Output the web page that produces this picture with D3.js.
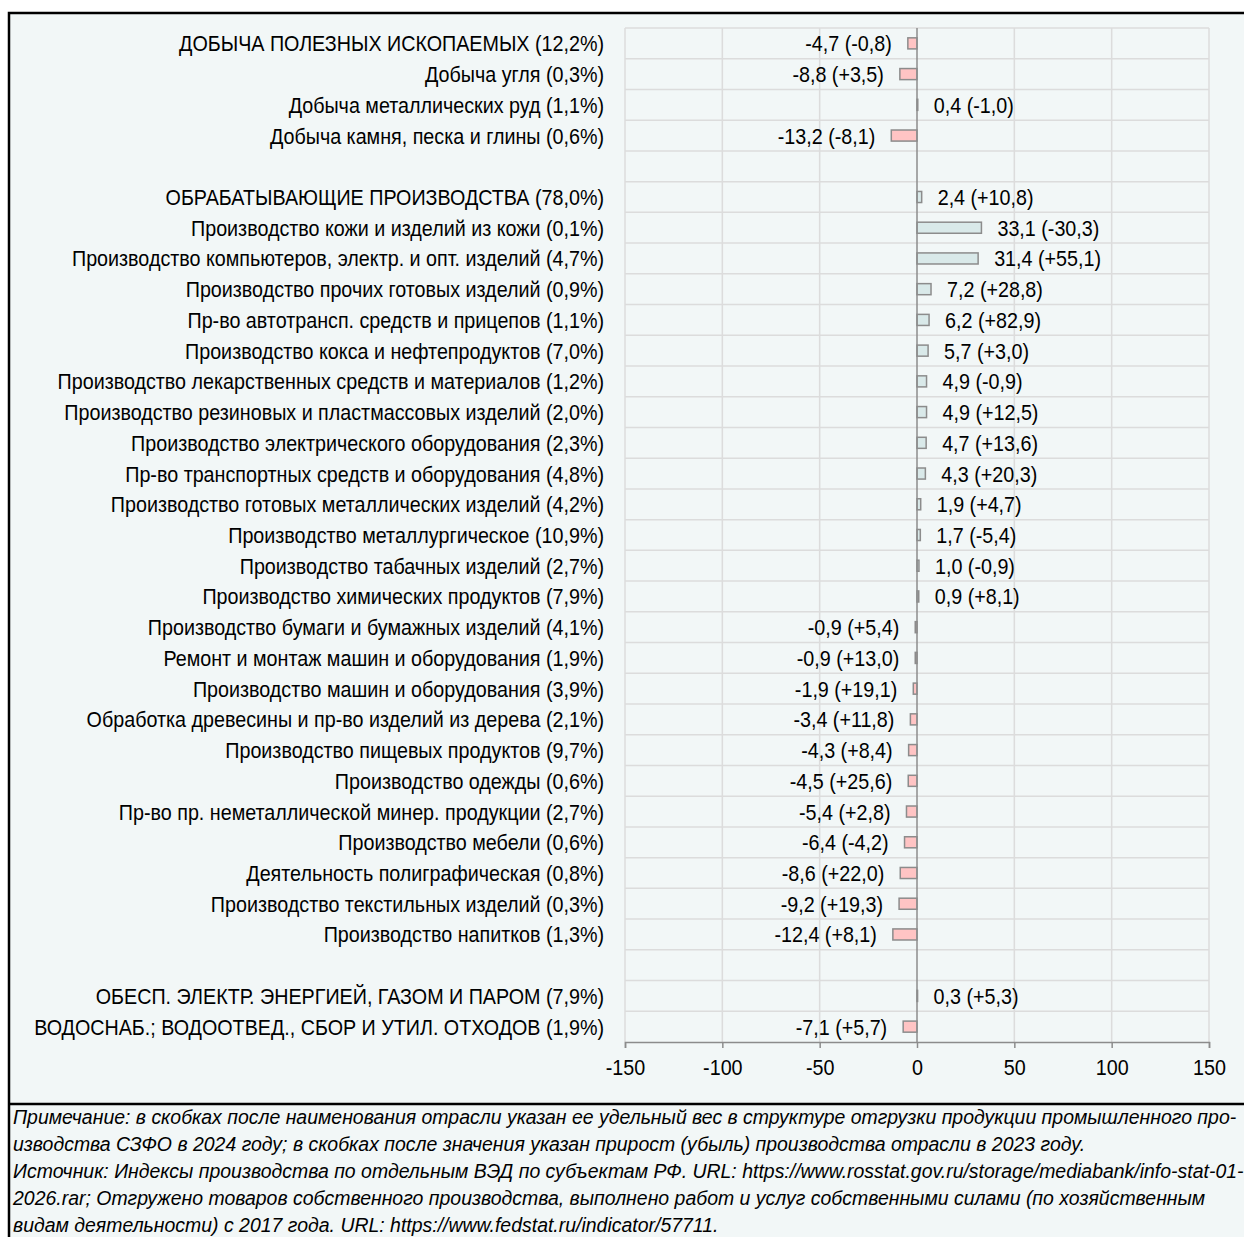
<!DOCTYPE html>
<html>
<head>
<meta charset="utf-8">
<script src="https://cdn.jsdelivr.net/npm/d3@7"></script>
<style>
    body { margin: 0; background: #ffffff; }
    svg { display: block; }
</style>
</head>
<body>
<div id="container"></div>
<script>
// chart data
const labels = [
    'ДОБЫЧА ПОЛЕЗНЫХ ИСКОПАЕМЫХ (12,2%)',
    'Добыча угля (0,3%)',
    'Добыча металлических руд (1,1%)',
    'Добыча камня, песка и глины (0,6%)',
    '',
    'ОБРАБАТЫВАЮЩИЕ ПРОИЗВОДСТВА (78,0%)',
    'Производство кожи и изделий из кожи (0,1%)',
    'Производство компьютеров, электр. и опт. изделий (4,7%)',
    'Производство прочих готовых изделий (0,9%)',
    'Пр-во автотрансп. средств и прицепов (1,1%)',
    'Производство кокса и нефтепродуктов (7,0%)',
    'Производство лекарственных средств и материалов (1,2%)',
    'Производство резиновых и пластмассовых изделий (2,0%)',
    'Производство электрического оборудования (2,3%)',
    'Пр-во транспортных средств и оборудования (4,8%)',
    'Производство готовых металлических изделий (4,2%)',
    'Производство металлургическое (10,9%)',
    'Производство табачных изделий (2,7%)',
    'Производство химических продуктов (7,9%)',
    'Производство бумаги и бумажных изделий (4,1%)',
    'Ремонт и монтаж машин и оборудования (1,9%)',
    'Производство машин и оборудования (3,9%)',
    'Обработка древесины и пр-во изделий из дерева (2,1%)',
    'Производство пищевых продуктов (9,7%)',
    'Производство одежды (0,6%)',
    'Пр-во пр. неметаллической минер. продукции (2,7%)',
    'Производство мебели (0,6%)',
    'Деятельность полиграфическая (0,8%)',
    'Производство текстильных изделий (0,3%)',
    'Производство напитков (1,3%)',
    '',
    'ОБЕСП. ЭЛЕКТР. ЭНЕРГИЕЙ, ГАЗОМ И ПАРОМ (7,9%)',
    'ВОДОСНАБ.; ВОДООТВЕД., СБОР И УТИЛ. ОТХОДОВ (1,9%)'
];

const values = [-4.7, -8.8, 0.4, -13.2, null,
    2.4, 33.1, 31.4, 7.2, 6.2, 5.7, 4.9, 4.9, 4.7, 4.3, 1.9, 1.7, 1.0, 0.9,
    -0.9, -0.9, -1.9, -3.4, -4.3, -4.5, -5.4, -6.4, -8.6, -9.2, -12.4, null,
    0.3, -7.1];

const changes = ['-0,8', '+3,5', '-1,0', '-8,1', null,
    '+10,8', '-30,3', '+55,1', '+28,8', '+82,9', '+3,0', '-0,9', '+12,5', '+13,6', '+20,3', '+4,7', '-5,4', '-0,9', '+8,1',
    '+5,4', '+13,0', '+19,1', '+11,8', '+8,4', '+25,6', '+2,8', '-4,2', '+22,0', '+19,3', '+8,1', null,
    '+5,3', '+5,7'];

const ticks = [-150, -100, -50, 0, 50, 100, 150];

const notes = [
    'Примечание: в скобках после наименования отрасли указан ее удельный вес в структуре отгрузки продукции промышленного про-',
    'изводства СЗФО в 2024 году; в скобках после значения указан прирост (убыль) производства отрасли в 2023 году.',
    'Источник: Индексы производства по отдельным ВЭД по субъектам РФ. URL: https://www.rosstat.gov.ru/storage/mediabank/info-stat-01-',
    '2026.rar; Отгружено товаров собственного производства, выполнено работ и услуг собственными силами (по хозяйственным',
    'видам деятельности) с 2017 года. URL: https://www.fedstat.ru/indicator/57711.'
];

// svg dimensions
const w = 1244;
const h = 1237;
const font = '"Liberation Sans", Arial, sans-serif';
const fmt = v => v.toFixed(1).replace('.', ',');

// create svg
const svg = d3.select('#container')
                .append('svg')
                .attr('width', w)
                .attr('height', h);

// frame and background
svg.append('rect')
    .attr('x', 9).attr('y', 13)
    .attr('width', w + 20).attr('height', h + 20)
    .attr('fill', '#f2f7f7')
    .attr('stroke', '#000')
    .attr('stroke-width', 2.5);

svg.append('line')
    .attr('x1', 9).attr('x2', w)
    .attr('y1', 1104).attr('y2', 1104)
    .attr('stroke', '#000')
    .attr('stroke-width', 2.5);

// create scales
const xScale = d3.scaleLinear()
                .domain([-150, 150])
                .range([625, 1209]);

const yScale = d3.scaleBand()
                .domain(d3.range(labels.length))
                .range([28, 1042]);

const bh = yScale.bandwidth() * 0.36;

// grid
const grid = svg.append('g').attr('stroke', '#dcdcdc').attr('stroke-width', 1.5);

grid.selectAll('.hg')
    .data(d3.range(labels.length))
    .join('line')
    .attr('x1', xScale(-150)).attr('x2', xScale(150))
    .attr('y1', d => yScale(d)).attr('y2', d => yScale(d));

grid.selectAll('.vg')
    .data(ticks.filter(t => t !== 0))
    .join('line')
    .attr('x1', d => xScale(d)).attr('x2', d => xScale(d))
    .attr('y1', yScale.range()[0]).attr('y2', yScale.range()[1]);

// x axis
const xAxis = d3.axisBottom(xScale)
                .tickValues(ticks)
                .tickSize(6)
                .tickPadding(11)
                .tickFormat(d => d);

const axisG = svg.append('g')
    .attr('transform', `translate(0, ${yScale.range()[1]})`)
    .call(xAxis);

axisG.select('.domain').attr('stroke', '#8c8c8c').attr('stroke-width', 1.5);
axisG.selectAll('.tick line').attr('stroke', '#8c8c8c').attr('stroke-width', 1.5);

// bars
const rows = d3.range(labels.length).filter(i => values[i] !== null);

svg.append('g')
    .selectAll('rect')
    .data(rows)
    .join('rect')
    .attr('x', i => xScale(Math.min(0, values[i])))
    .attr('width', i => Math.abs(xScale(values[i]) - xScale(0)))
    .attr('y', i => yScale(i) + (yScale.bandwidth() - bh) / 2)
    .attr('height', bh)
    .attr('fill', i => values[i] < 0 ? '#ffc4c4' : '#d9e9e9')
    .attr('stroke', '#8c8c8c')
    .attr('stroke-width', 1.5);

// zero line
svg.append('line')
    .attr('x1', xScale(0)).attr('x2', xScale(0))
    .attr('y1', yScale.range()[0]).attr('y2', yScale.range()[1])
    .attr('stroke', '#8c8c8c')
    .attr('stroke-width', 1.5);

// category labels
const catG = svg.append('g')
    .style('font-family', font)
    .style('font-size', '22px')
    .attr('fill', '#000');

const cats = catG.selectAll('text')
    .data(d3.range(labels.length))
    .join('text')
    .attr('text-anchor', 'end')
    .attr('transform', i => `translate(604, ${yScale(i) + yScale.bandwidth() / 2 + 8})`)
    .text(i => labels[i]);

// narrow the labels to the reference width
const longest = cats.filter(i => i === 11).node().getComputedTextLength();
const sx = 547 / longest;
cats.attr('transform', i => `translate(604, ${yScale(i) + yScale.bandwidth() / 2 + 8}) scale(${sx}, 1)`);

// tick labels in the same narrow style
axisG.selectAll('.tick text')
    .attr('fill', '#000')
    .style('font-family', font)
    .style('font-size', '22px')
    .attr('transform', `scale(${sx}, 1)`);

// value labels
svg.append('g')
    .style('font-family', font)
    .style('font-size', '22px')
    .attr('fill', '#000')
    .selectAll('text')
    .data(rows)
    .join('text')
    .attr('text-anchor', i => values[i] < 0 ? 'end' : 'start')
    .attr('transform', i => {
        const px = values[i] < 0 ? xScale(values[i]) - 16 : xScale(values[i]) + 16;
        return `translate(${px}, ${yScale(i) + yScale.bandwidth() / 2 + 8}) scale(${sx}, 1)`;
    })
    .text(i => `${fmt(values[i])} (${changes[i]})`);

// footnote
const noteG = svg.append('g')
    .style('font-family', font)
    .style('font-size', '21px')
    .style('font-style', 'italic')
    .attr('fill', '#000');

const noteText = noteG.selectAll('text')
    .data(notes)
    .join('text')
    .attr('transform', (d, i) => `translate(13, ${1124 + i * 27})`)
    .text(d => d);

const nsx = 1224 / noteText.filter((d, i) => i === 0).node().getComputedTextLength();
noteText.attr('transform', (d, i) => `translate(13, ${1124 + i * 27}) scale(${nsx}, 1)`);
</script>
</body>
</html>
